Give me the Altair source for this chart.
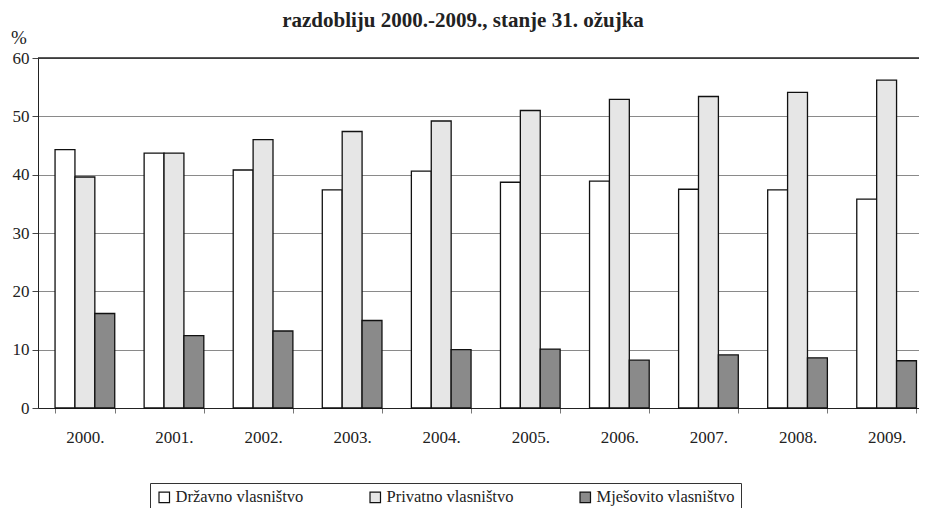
import altair as alt
import pandas as pd

years = ["2000.", "2001.", "2002.", "2003.", "2004.", "2005.", "2006.", "2007.", "2008.", "2009."]
series = ["Državno vlasništvo", "Privatno vlasništvo", "Mješovito vlasništvo"]
drzavno = [44.3, 43.7, 40.8, 37.4, 40.6, 38.7, 38.9, 37.5, 37.4, 35.8]
privatno = [39.6, 43.7, 46.0, 47.4, 49.2, 51.0, 52.9, 53.4, 54.1, 56.2]
mjesovito = [16.2, 12.4, 13.2, 15.0, 10.0, 10.1, 8.2, 9.1, 8.6, 8.1]
colors = ["#ffffff", "#e6e6e6", "#8a8a8a"]
title_text = "razdobliju 2000.-2009., stanje 31. ožujka"
y_ticks = [0, 10, 20, 30, 40, 50, 60]

rows = []
for vals, s in zip([drzavno, privatno, mjesovito], series):
    for y, v in zip(years, vals):
        rows.append({"Godina": y, "Vlasništvo": s, "Vrijednost": v})
df = pd.DataFrame(rows)

FONT = "Liberation Serif"

bars = alt.Chart(df).mark_bar(stroke="#111111", strokeWidth=1.3).encode(
    x=alt.X("Godina:N", sort=years, title=None,
            scale=alt.Scale(paddingInner=0.33, paddingOuter=0.11, align=0.87),
            axis=alt.Axis(labelAngle=0, labelFont=FONT, labelFontSize=17, labelColor="#222",
                          labelPadding=16, tickBand="extent", tickSize=5, tickColor="#777",
                          domainColor="#222", grid=False)),
    xOffset=alt.XOffset("Vlasništvo:N", sort=series),
    y=alt.Y("Vrijednost:Q", title=None,
            scale=alt.Scale(domain=[0, 60]),
            axis=alt.Axis(values=y_ticks, labelFont=FONT, labelFontSize=17,
                          labelColor="#222", tickSize=6, tickColor="#444", domainColor="#222",
                          gridColor="#8a8a8a", gridWidth=1, labelPadding=3)),
    color=alt.Color("Vlasništvo:N", sort=series,
                    scale=alt.Scale(domain=series, range=colors),
                    legend=alt.Legend(title=None, orient="none", legendX=112, legendY=425,
                                      direction="horizontal", columns=3, symbolType="square",
                                      symbolSize=110, symbolStrokeColor="#111", symbolStrokeWidth=1.2,
                                      labelFont=FONT, labelFontSize=16.5, labelColor="#222",
                                      columnPadding=63, strokeColor="#333", padding=6,
                                      labelOffset=3)),
)

top_line = alt.Chart(pd.DataFrame({"v": [y_ticks[-1]]})).mark_rule(
    color="#222", strokeWidth=1.4
).encode(y="v:Q")

pct = alt.Chart(pd.DataFrame({"t": ["%"]})).mark_text(
    font=FONT, fontSize=19, color="#222", align="left", baseline="alphabetic"
).encode(text="t:N", x=alt.value(-27), y=alt.value(-14))

ttl = alt.Chart(pd.DataFrame({"t": [title_text]})).mark_text(
    font=FONT, fontSize=21, fontWeight="bold", color="#222", align="center", baseline="alphabetic"
).encode(text="t:N", x=alt.value(425), y=alt.value(-31))

chart = alt.layer(bars, top_line, pct, ttl).properties(
    width=881, height=350,
    autosize=alt.AutoSizeParams(type="none"),
    padding={"left": 30, "top": 50, "right": 0, "bottom": 100},
).configure(font=FONT).configure_view(stroke="transparent")

chart.save("out.html", embed_options={"renderer": "svg", "actions": False})
